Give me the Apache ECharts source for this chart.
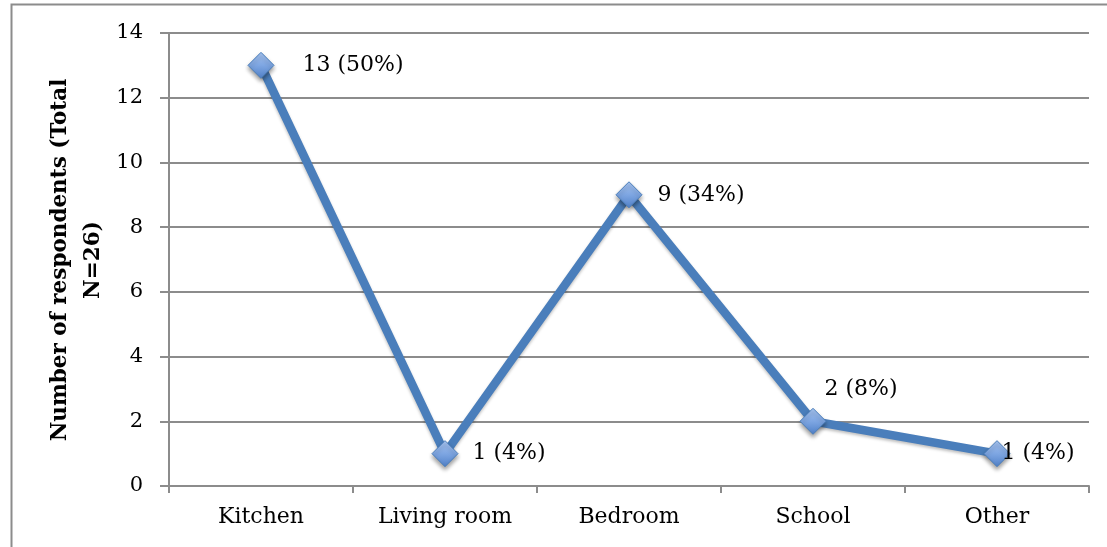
<!DOCTYPE html>
<html>
<head>
<meta charset="utf-8">
<title>Number of respondents</title>
<script src="https://cdn.jsdelivr.net/npm/echarts@6/dist/echarts.min.js"></script>
<style>
	html, body { margin: 0; padding: 0; background: #fff; }
	#chart { width: 1107px; height: 547px; }
</style>
</head>
<body>
<div id="chart"></div>
<script>
	// data
	var categories = ['Kitchen', 'Living room', 'Bedroom', 'School', 'Other'];
	var respondents = [13, 1, 9, 2, 1];
	var percents = [50, 4, 34, 8, 4];
	var yTicks = [0, 2, 4, 6, 8, 10, 12, 14];
	var yTitle = 'Number of respondents (Total\nN=26)';

	var FONT = '"DejaVu Serif", "Liberation Serif", serif';
	var GRID_COLOR = '#8c8c8c';

	// where each value label sits next to its marker
	var labelOffsets = [[28, 0], [14, 0], [15, 0], [-2, -32], [-9, 0]];

	var chart = echarts.init(document.getElementById('chart'));
	chart.setOption({
		animation: false,
		graphic: [{
			type: 'rect',
			shape: { x: 11.5, y: 4.5, width: 1200, height: 600 },
			style: { fill: 'none', stroke: '#8c8c8c', lineWidth: 2 },
			silent: true
		}, {
			// rotated y axis title, two lines
			type: 'text',
			x: 77,
			y: 260,
			rotation: Math.PI / 2,
			style: {
				text: yTitle,
				fill: '#000',
				font: 'bold 21.5px ' + FONT,
				lineHeight: 33,
				align: 'center',
				verticalAlign: 'middle'
			},
			silent: true
		}],
		grid: {
			left: 169,
			top: 33,
			right: 18,
			bottom: 61
		},
		xAxis: {
			type: 'category',
			data: categories,
			boundaryGap: true,
			axisLine: { lineStyle: { color: GRID_COLOR, width: 2 } },
			axisTick: { show: true, length: 7, lineStyle: { color: GRID_COLOR, width: 2 } },
			axisLabel: {
				color: '#000',
				fontFamily: FONT,
				fontSize: 22,
				margin: 20
			}
		},
		yAxis: {
			type: 'value',
			min: yTicks[0],
			max: yTicks[yTicks.length - 1],
			interval: yTicks[1] - yTicks[0],
			axisLine: { show: true, lineStyle: { color: GRID_COLOR, width: 2 } },
			axisTick: { show: true, length: 9, lineStyle: { color: GRID_COLOR, width: 2 } },
			axisLabel: {
				color: '#000',
				fontFamily: FONT,
				fontSize: 21,
				margin: 26
			},
			splitLine: { lineStyle: { color: GRID_COLOR, width: 2 } }
		},
		series: [{
			type: 'line',
			data: respondents.map(function (v, i) {
				return {
					value: v,
					label: { offset: labelOffsets[i] }
				};
			}),
			symbol: 'diamond',
			symbolSize: 26,
			lineStyle: {
				color: '#4a7ebb',
				width: 8.5,
				shadowColor: 'rgba(0,0,0,0.25)',
				shadowBlur: 3,
				shadowOffsetY: 2
			},
			itemStyle: {
				color: new echarts.graphic.LinearGradient(0, 0, 0, 1, [
					{ offset: 0, color: '#a9c6f2' },
					{ offset: 0.5, color: '#7ea6e2' },
					{ offset: 1, color: '#4f80c8' }
				]),
				borderColor: '#4a7ebb',
				borderWidth: 1,
				shadowColor: 'rgba(0,0,0,0.4)',
				shadowBlur: 4,
				shadowOffsetY: 3
			},
			label: {
				show: true,
				position: 'right',
				distance: 0,
				color: '#000',
				fontFamily: FONT,
				fontSize: 22,
				formatter: function (p) {
					return p.value + ' (' + percents[p.dataIndex] + '%)';
				}
			}
		}]
	});
</script>
</body>
</html>
